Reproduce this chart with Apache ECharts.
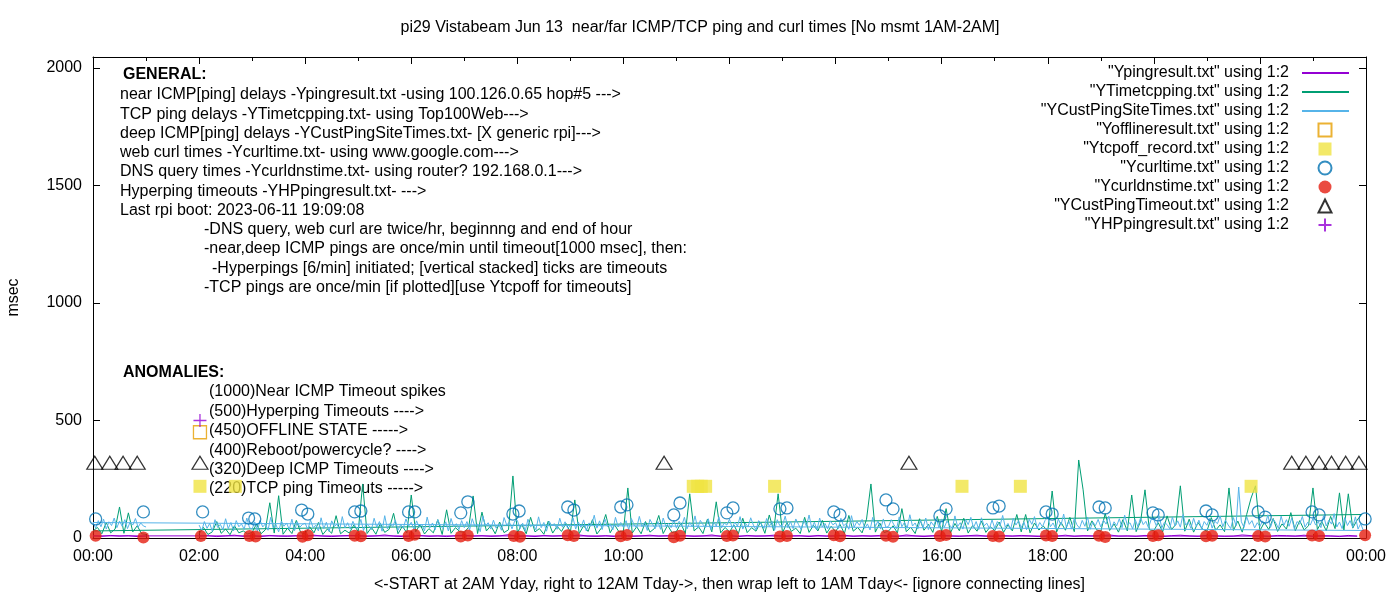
<!DOCTYPE html>
<html><head><meta charset="utf-8">
<script src="https://cdn.jsdelivr.net/npm/echarts@6/dist/echarts.min.js"></script>
<style>html,body{margin:0;padding:0;background:#fff}#c{width:1400px;height:600px}</style>
</head><body><div id="c"></div>
<script>
// ---------------- DATA ----------------
const chartTitle = 'pi29 Vistabeam Jun 13  near/far ICMP/TCP ping and curl times [No msmt 1AM-2AM]';
const xAxisTitle = '<-START at 2AM Yday, right to 12AM Tday->, then wrap left to 1AM Tday<- [ignore connecting lines]';
const yAxisTitle = 'msec';
const lineNames = ['Ypingresult.txt','YTimetcpping.txt','YCustPingSiteTimes.txt'];
const markNames = ['Yofflineresult.txt','Ytcpoff_record.txt','Ycurltime.txt','Ycurldnstime.txt','YCustPingTimeout.txt','YHPpingresult.txt'];

// sampled line series: main run starts 02:00, wrap run starts 00:00
const pingStep = 10; // minutes
const pingMain = [
 8,10,6,9,12,7, 9,6,11,8,7,10, 7,12,8,6,9,11, 10,7,9,13,8,6, 8,11,7,9,6,10, 12,8,10,7,9,14,
 7,9,6,11,8,10, 9,13,8,7,10,6, 11,7,9,12,8,10, 8,10,7,9,13,7, 10,6,11,8,9,12, 7,9,10,6,11,8,
 9,12,7,10,8,11, 8,7,13,9,6,10, 11,9,7,10,12,8, 7,10,8,11,9,6, 9,8,12,7,10,9, 10,13,8,9,7,11,
 8,6,10,12,9,7, 11,9,7,8,13,10, 9,7,11,10,8,12, 7,10,9,6,11,8
];
const pingWrap = [9,7,11,8,10,6,8];

const tcpStep = 5; // minutes
const tcpMain = [
 18,45,15,26,70,20,38,14,52,22,30,17,
 24,60,18,35,150,21,180,16,42,19,75,23,
 17,48,22,66,15,38,20,95,18,33,21,55,
 28,230,19,45,16,62,24,37,105,18,50,22,
 183,26,58,17,40,22,78,15,120,20,44,27,
 24,46,179,19,110,30,52,18,68,23,35,264,
 21,58,18,88,26,40,16,72,21,50,28,62,
 25,162,19,52,28,78,17,42,100,22,56,26,
 30,213,21,48,18,70,25,40,96,19,54,23,
 28,62,19,188,30,48,19,80,26,154,22,45,
 26,55,18,84,23,44,29,68,20,98,31,188,
 22,66,28,42,19,88,24,54,30,75,21,50,
 27,58,19,96,29,45,22,80,230,25,64,23,
 30,52,22,125,27,46,19,82,33,58,24,92,
 28,125,22,62,31,84,21,53,29,72,24,48,
 32,68,24,56,30,100,26,100,22,64,34,51,
 29,200,25,67,33,88,27,332,205,30,73,36,
 28,104,32,60,25,78,30,183,27,70,205,35,
 31,65,26,94,36,58,222,29,80,25,66,38,
 29,87,33,56,27,213,32,72,25,100,170,222,
 31,66,36,83,28,60,38,108,30,74,34,52,
 213,36,70,31,92,40,192,34,188,42,77,100
];
const tcpWrap = [30,45,18,66,22,38,132,20,107,26,52,18,15];

const custStep = 3; // minutes
const custMain = [
 55,32,70,41,62,28,78,45,58,35,82,40,66,30,74,48,60,37,85,44,
 38,68,29,75,47,60,33,88,42,57,26,72,50,64,36,80,31,69,46,58,
 63,35,77,44,54,30,86,40,67,28,73,49,59,34,91,43,65,38,71,47,
 41,79,32,61,52,36,84,45,70,29,95,39,62,48,76,33,57,42,81,50,
 67,37,73,46,58,31,89,43,64,35,78,52,40,69,30,83,47,61,36,74,
 44,70,34,82,49,59,27,93,51,65,38,76,42,60,33,87,55,68,39,72,
 75,40,63,31,80,48,57,35,90,44,66,29,71,53,61,37,84,46,69,41,
 52,86,38,68,45,77,30,64,55,97,42,73,36,81,49,60,34,88,47,66,
 46,74,35,83,56,43,92,48,67,32,79,58,40,70,37,85,50,63,44,76,
 42,71,53,88,39,66,47,94,41,75,57,45,82,36,69,51,90,43,64,55,
 80,43,68,50,91,38,63,47,86,55,35,74,60,41,83,49,70,33,78,52,
 54,93,44,70,40,81,58,36,77,50,98,43,67,35,85,47,62,39,73,56,
 65,39,84,52,61,37,95,46,70,54,79,41,60,34,88,50,72,38,81,45,
 50,78,56,40,90,48,67,42,99,51,64,38,76,45,85,36,69,53,83,43,
 81,45,72,55,41,94,49,65,38,79,57,88,44,70,36,86,52,63,40,77,
 42,70,51,96,46,62,37,84,55,74,44,68,35,80,58,91,43,66,48,75,
 87,48,64,40,81,54,102,45,71,38,84,56,42,75,50,89,37,68,53,79,
 47,76,59,93,41,69,52,82,44,97,55,65,39,78,48,86,57,71,43,80,
 78,50,95,43,67,57,39,89,51,73,46,100,55,68,41,84,49,76,38,70,
 54,83,42,71,61,94,48,76,56,40,87,52,217,69,45,91,58,74,43,65,
 49,73,57,99,45,80,64,41,93,53,78,50,85,38,70,59,92,46,67,55,
 83,55,70,44,96,51,76,59,104,47,68,40,87,53,74,45,90,38,61,32
];
const custWrap = [66,42,74,48,80,38,69,53,85,44,72,50,78,40,68,55,83,46,64,51,47];

const offlineTimes = ['02:01'];
const offlineValues = [450];
const tcpoffTimes = ['02:01','02:41','11:19','11:24','11:28','11:33','12:51','16:23','17:29','21:50'];
const tcpoffValues = [220,220,220,220,220,220,220,220,220,220];
const curlTimes = ['00:03','00:57','02:04','02:56','03:03','03:56','04:03','04:56','05:03','05:57','06:04','06:56','07:04','07:55','08:02','08:57','09:04','09:57','10:04','10:57','11:04','11:57','12:04','12:57','13:05','13:58','14:05','14:57','15:05','15:58','16:05','16:58','17:05','17:58','18:05','18:58','19:05','19:59','20:05','20:59','21:06','21:58','22:06','22:59','23:07','23:59'];
const curlValues = [81,111,111,85,81,119,102,111,115,111,111,107,154,102,115,132,119,132,141,98,149,107,128,124,128,111,98,162,124,94,124,128,136,111,102,132,128,107,98,115,98,111,89,111,98,81];
const dnsTimes = ['00:03','00:57','02:02','02:57','03:04','03:57','04:03','04:56','05:03','05:57','06:04','06:56','07:04','07:56','08:03','08:57','09:04','09:57','10:04','10:57','11:04','11:57','12:04','12:57','13:05','13:58','14:05','14:57','15:05','15:58','16:05','16:58','17:05','17:58','18:05','18:58','19:05','19:59','20:05','20:59','21:06','21:58','22:06','22:59','23:07','23:59'];
const dnsValues = [10,2,8,9,6,5,12,10,7,9,14,6,11,8,5,12,9,7,13,3,10,8,11,6,9,12,7,10,5,8,13,9,6,11,8,10,4,9,12,7,10,8,6,11,9,12];
const custTimeoutTimes = ['00:02','00:19','00:34','00:50','02:01','10:46','15:23','22:36','22:52','23:07','23:21','23:37','23:52'];
const custTimeoutValues = [320,320,320,320,320,320,320,320,320,320,320,320,320];
const hpTimes = ['02:01'];
const hpValues = [500];

const generalHeader = 'GENERAL:';
const generalNotes = [
 'near ICMP[ping] delays -Ypingresult.txt -using 100.126.0.65 hop#5 --->',
 'TCP ping delays -YTimetcpping.txt- using Top100Web--->',
 'deep ICMP[ping] delays -YCustPingSiteTimes.txt- [X generic rpi]--->',
 'web curl times -Ycurltime.txt- using www.google.com--->',
 'DNS query times -Ycurldnstime.txt- using router? 192.168.0.1--->',
 'Hyperping timeouts -YHPpingresult.txt- --->',
 'Last rpi boot: 2023-06-11 19:09:08',
 '-DNS query, web curl are twice/hr, beginnng and end of hour',
 '-near,deep ICMP pings are once/min until timeout[1000 msec], then:',
 '-Hyperpings [6/min] initiated; [vertical stacked] ticks are timeouts',
 '-TCP pings are once/min [if plotted][use Ytcpoff for timeouts]'
];
const anomalyHeader = 'ANOMALIES:';
const anomalyNotes = [
 '(1000)Near ICMP Timeout spikes',
 '(500)Hyperping Timeouts ---->',
 '(450)OFFLINE STATE ----->',
 '(400)Reboot/powercycle? ---->',
 '(320)Deep ICMP Timeouts ---->',
 '(220)TCP ping Timeouts ----->'
];

// ---------------- HELPERS ----------------
function hm(s){ const p = s.split(':').map(Number); return p[0] + p[1]/60; }
function run(startHM, stepMin, vals){ const t0 = hm(startHM); return vals.map((v,i)=>[t0 + i*stepMin/60, v]); }
function pts(times, vals){ return times.map((t,i)=>[hm(t), vals[i]]); }

// ---------------- LAYOUT ----------------
const FONT = '"Liberation Sans", Arial, sans-serif';
const FS = 16;
const generalX = [120,120,120,120,120,120,120,204,204,212,204];
const graphics = [];
graphics.push({type:'text', x:123, y:75, style:{text:generalHeader, font:'bold 16px '+FONT, fill:'#000', verticalAlign:'middle'}});
generalNotes.forEach((t,i)=>graphics.push({type:'text', x:generalX[i], y:95 + i*19.25, style:{text:t, font:FS+'px '+FONT, fill:'#000', verticalAlign:'middle'}}));
graphics.push({type:'text', x:123, y:373, style:{text:anomalyHeader, font:'bold 16px '+FONT, fill:'#000', verticalAlign:'middle'}});
anomalyNotes.forEach((t,i)=>graphics.push({type:'text', x:209, y:392 + i*19.4, style:{text:t, font:FS+'px '+FONT, fill:'#000', verticalAlign:'middle'}}));

const hourFmt = v => { const h = Math.round(v) % 24; return (h<10?'0':'')+h+':00'; };
const axisCommon = {
  type:'value', axisLine:{show:true, onZero:false, lineStyle:{color:'#000', width:1}},
  splitLine:{show:false}
};
const legendText = (padRight) => ({fontFamily:FONT, fontSize:FS, color:'#000',
  rich:{a:{fontFamily:FONT, fontSize:FS, color:'#000', width:255, align:'right', padding:[0,padRight,0,0]}}});
const noIconFill = {color:'rgba(0,0,0,0)', borderWidth:0};

const chart = echarts.init(document.getElementById('c'), null, {renderer:'canvas'});
chart.setOption({
  animation:false,
  backgroundColor:'#fff',
  textStyle:{fontFamily:FONT},
  title:{text:chartTitle, left:'center', top:20, padding:0, itemGap:0,
    textStyle:{fontSize:FS, fontWeight:'normal', color:'#000', fontFamily:FONT}},
  grid:{left:93, right:34, top:57, bottom:62, containLabel:false, outerBoundsMode:'none'},
  graphic: graphics,
  legend:[
    {orient:'vertical', right:50, top:65, padding:0, itemGap:3, align:'right',
      itemWidth:47, itemHeight:13, selectedMode:false,
      data: lineNames.map(n => ({name:n, itemStyle:noIconFill})),
      formatter: n => '{a|"' + n + '" using 1:2}', textStyle: legendText(8)},
    {orient:'vertical', right:67.5, top:65 + 3*19, padding:0, itemGap:3, align:'right',
      itemWidth:13, itemHeight:13, selectedMode:false,
      data: markNames,
      formatter: n => '{a|"' + n + '" using 1:2}', textStyle: legendText(24.5)}
  ],
  xAxis:[
    Object.assign({}, axisCommon, {position:'bottom', min:0, max:24, interval:2,
      axisTick:{show:true, inside:true, length:7, lineStyle:{color:'#000'}},
      minorTick:{show:true, splitNumber:2, length:4, lineStyle:{color:'#000'}},
      axisLabel:{color:'#000', fontSize:FS, fontFamily:FONT, margin:11, formatter:hourFmt},
      name:xAxisTitle, nameLocation:'middle', nameGap:39,
      nameTextStyle:{color:'#000', fontSize:FS, fontFamily:FONT}}),
    Object.assign({}, axisCommon, {position:'top', min:0, max:24, interval:2,
      axisTick:{show:true, inside:true, length:7, lineStyle:{color:'#000'}},
      minorTick:{show:true, splitNumber:2, length:4, lineStyle:{color:'#000'}},
      axisLabel:{show:false}})
  ],
  yAxis:[
    Object.assign({}, axisCommon, {position:'left', min:0, max:2047, interval:500,
      axisTick:{show:true, inside:true, length:7, lineStyle:{color:'#000'}},
      axisLabel:{color:'#000', fontSize:FS, fontFamily:FONT, margin:11, formatter:v => (v % 500 === 0 ? String(v) : '')},
      name:yAxisTitle, nameLocation:'middle', nameGap:71,
      nameTextStyle:{color:'#000', fontSize:FS, fontFamily:FONT}}),
    Object.assign({}, axisCommon, {position:'right', min:0, max:2047, interval:500,
      axisTick:{show:true, inside:true, length:7, lineStyle:{color:'#000'}},
      axisLabel:{show:false}})
  ],
  series:[
    {name:lineNames[0], type:'line', showSymbol:false, symbol:'none', z:2,
      lineStyle:{color:'#9400d3', width:1}, itemStyle:{color:'#9400d3'},
      data: run('02:00', pingStep, pingMain).concat(run('00:00', pingStep, pingWrap))},
    {name:lineNames[1], type:'line', showSymbol:false, symbol:'none', z:3,
      lineStyle:{color:'#009e73', width:1}, itemStyle:{color:'#009e73'},
      data: run('02:00', tcpStep, tcpMain).concat(run('00:00', tcpStep, tcpWrap))},
    {name:lineNames[2], type:'line', showSymbol:false, symbol:'none', z:4,
      lineStyle:{color:'#56b4e9', width:1}, itemStyle:{color:'#56b4e9'},
      data: run('02:00', custStep, custMain).concat(run('00:00', custStep, custWrap))},
    {name:markNames[0], type:'scatter', symbol:'rect', symbolSize:13, z:5,
      itemStyle:{color:'rgba(0,0,0,0)', borderColor:'#e69f00', borderWidth:1.3},
      data: pts(offlineTimes, offlineValues)},
    {name:markNames[1], type:'scatter', symbol:'rect', symbolSize:13, z:5,
      itemStyle:{color:'#f0e442'},
      data: pts(tcpoffTimes, tcpoffValues)},
    {name:markNames[2], type:'scatter', symbol:'circle', symbolSize:12, z:6,
      itemStyle:{color:'rgba(0,0,0,0)', borderColor:'#0072b2', borderWidth:1.3},
      data: pts(curlTimes, curlValues)},
    {name:markNames[3], type:'scatter', symbol:'circle', symbolSize:12, z:6,
      itemStyle:{color:'#e51e10'},
      data: pts(dnsTimes, dnsValues)},
    {name:markNames[4], type:'scatter', symbol:'triangle', symbolSize:[16,13], z:6,
      itemStyle:{color:'rgba(0,0,0,0)', borderColor:'#000', borderWidth:1.2},
      data: pts(custTimeoutTimes, custTimeoutValues)},
    {name:markNames[5], type:'scatter', symbol:'path://M0,6 L12,6 M6,0 L6,12', symbolSize:13, z:6,
      itemStyle:{color:'rgba(0,0,0,0)', borderColor:'#9400d3', borderWidth:1.3},
      data: pts(hpTimes, hpValues)}
  ]
});
</script>
</body></html>
